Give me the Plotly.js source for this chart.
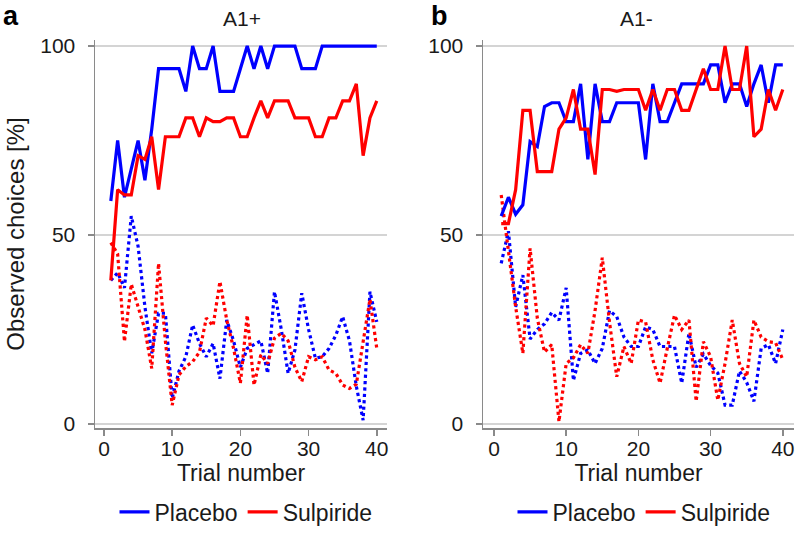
<!DOCTYPE html>
<html>
<head>
<meta charset="utf-8">
<script src="https://cdn.plot.ly/plotly-3.0.1.min.js"></script>
<style>
  html, body { margin: 0; padding: 0; background: #fff; }
  #chart { width: 798px; height: 549px; }
</style>
</head>
<body>
<div id="chart"></div>
<script>
// ---- Data ----
const trials = [1,2,3,4,5,6,7,8,9,10,11,12,13,14,15,16,17,18,19,20,
                21,22,23,24,25,26,27,28,29,30,31,32,33,34,35,36,37,38,39,40];

const seriesNames = ["Placebo", "Sulpiride"];
const panelTitles = ["A1+", "A1-"];
const panelLetters = ["a", "b"];
const xTickVals = [0, 10, 20, 30, 40];
const yTickVals = [0, 50, 100];
const xTitle = "Trial number";
const yTitle = "Observed choices [%]";

// Panel a (A1+)
const leftPlaceboSolid = [59,75,60,67.5,75,64.5,78,94,94,94,94,88,100,94,94,100,88,88,88,94,
                          100,94,100,94,100,100,100,100,94,94,94,100,100,100,100,100,100,100,100,100];
const leftSulpirideSolid = [38,62,60.6,60.6,71,70,76,62,76,76,76,81,81,76,81,80,80,81,81,76,
                            76,81,85.5,81,85.5,85.5,85.5,81,81,81,76,76,81,81,85.5,85.5,90,71,81,85.5];
const leftPlaceboDotted = [38,40,36,55,47,31,18.7,29.3,29.3,6.8,14,17.8,26.2,21.3,17.8,21.3,12,27.5,22,15,
                           20,21,22,13.4,35,25,13.4,19.6,34.6,25,17.4,17.8,20,23.5,28.4,22,10,1,35,27];
const leftSulpirideDotted = [48,45,21.8,37,31,25,14.7,42.5,22,5,13,15.2,16.5,19,28,26,37.7,27.5,20,10.8,
                             28.8,10.3,18.3,16,22.7,24,22,15,11.2,17.8,17,17.8,14.3,13.4,10.3,9.4,10.5,22,33,20];

// Panel b (A1-)
const rightPlaceboSolid = [55,60,55.5,58,74.7,73.4,84,85,85,80,80,90,70,90,80,80,85,85,85,85,
                           70,90,80,80,85,90,90,90,90,95,95,85,90,90,84,90,95,85,95,95];
const rightSulpirideSolid = [53,53,62,83,83,66.8,66.8,66.8,78,81,88.5,78,78,66,88.5,88.5,88,88.5,88.5,88.5,
                             83,88.5,83,88.5,88.5,83,83,88.5,94,88.5,88.5,100,88.5,88.5,100,76,78,88.5,83,88.5];
const rightPlaceboDotted = [42.5,51,31,39.4,22.5,25,26.5,29.5,27.5,36,11.5,18.7,19.6,16,20,30,28.4,23,20.5,20.5,
                            25.7,25,20.5,20.5,20.5,10.8,24,15,18.5,15.5,13.5,5,5,14,11,6,20,21,16,25];
const rightSulpirideDotted = [60.6,46,31,18.7,46.5,28,19,21,0.6,16,17.5,21,18.7,30,44,27,12.5,20.5,16,27.5,
                              27,17,10.8,20,28.8,25,27.5,6,21.8,17.8,6.3,16,27.5,16,12.5,27.5,23,21.8,21.5,17];

// ---- Styling ----
const BLUE = "rgb(0,0,255)";
const RED = "rgb(255,0,0)";
const FONT = "Liberation Sans, Arial, Helvetica, sans-serif";
const LW = 3.2;

function tr(y, xa, ya, color, dash, name, legendId, show) {
  return {
    x: trials, y: y, xaxis: xa, yaxis: ya,
    type: "scatter", mode: "lines",
    line: { color: color, width: LW, dash: dash },
    name: name, legend: legendId, showlegend: show,
    hoverinfo: "x+y+name"
  };
}

const data = [
  tr(leftPlaceboDotted,   "x",  "y",  BLUE, "dot",   seriesNames[0], "legend",  false),
  tr(leftSulpirideDotted, "x",  "y",  RED,  "dot",   seriesNames[1], "legend",  false),
  tr(leftPlaceboSolid,    "x",  "y",  BLUE, "solid", seriesNames[0], "legend",  true),
  tr(leftSulpirideSolid,  "x",  "y",  RED,  "solid", seriesNames[1], "legend",  true),
  tr(rightPlaceboDotted,  "x2", "y2", BLUE, "dot",   seriesNames[0], "legend2", false),
  tr(rightSulpirideDotted,"x2", "y2", RED,  "dot",   seriesNames[1], "legend2", false),
  tr(rightPlaceboSolid,   "x2", "y2", BLUE, "solid", seriesNames[0], "legend2", true),
  tr(rightSulpirideSolid, "x2", "y2", RED,  "solid", seriesNames[1], "legend2", true)
];

const W = 798, H = 549;
const px = v => v / W;
const py = v => 1 - v / H;

function xAxis(domain, range, anchor) {
  return {
    domain: domain, range: range, anchor: anchor,
    tickmode: "array", tickvals: xTickVals,
    showline: true, linecolor: "#8a8a8a", linewidth: 1.5,
    ticks: "outside", ticklen: 6, tickwidth: 1.5, tickcolor: "#8a8a8a",
    ticklabelstandoff: -5,
    showgrid: false, zeroline: false,
    tickfont: { family: FONT, size: 21, color: "#1a1a1a" },
    title: { text: xTitle, font: { family: FONT, size: 23, color: "#1a1a1a" }, standoff: 2 },
    fixedrange: true
  };
}
function yAxis(domain, anchor, withTitle) {
  const a = {
    domain: domain, range: [-1.06, 101.6], anchor: anchor,
    tickmode: "array", tickvals: yTickVals,
    showline: true, linecolor: "#8a8a8a", linewidth: 1.5,
    ticks: "outside", ticklen: 6, tickwidth: 1.5, tickcolor: "#8a8a8a",
    ticklabelstandoff: 8,
    showgrid: true, gridcolor: "#d4d4d4", gridwidth: 2,
    zeroline: false,
    tickfont: { family: FONT, size: 21, color: "#1a1a1a" },
    fixedrange: true
  };
  if (withTitle) {
    a.title = { text: yTitle, font: { family: FONT, size: 24, color: "#1a1a1a" }, standoff: 9 };
  }
  return a;
}

const yDom = [py(428), py(40)];

const legendFont = { family: FONT, size: 23, color: "#1a1a1a" };

const layout = {
  width: W, height: H,
  margin: { l: 0, r: 0, t: 0, b: 0 },
  paper_bgcolor: "#ffffff", plot_bgcolor: "#ffffff",
  font: { family: FONT, color: "#1a1a1a" },
  xaxis:  xAxis([px(95), px(387)], [-1.32, 41.5], "y"),
  yaxis:  yAxis(yDom, "x", true),
  xaxis2: xAxis([px(483), px(794)], [-1.52, 41.55], "y2"),
  yaxis2: yAxis(yDom, "x2", false),
  legend: {
    orientation: "h", x: px(246), xanchor: "center", y: py(512), yanchor: "middle",
    font: legendFont, itemwidth: 30,
    bgcolor: "rgba(0,0,0,0)", tracegroupgap: 0
  },
  legend2: {
    orientation: "h", x: px(644), xanchor: "center", y: py(512), yanchor: "middle",
    font: legendFont, itemwidth: 30,
    bgcolor: "rgba(0,0,0,0)", tracegroupgap: 0
  },
  annotations: [
    { text: panelTitles[0], x: px(242), y: py(18), xref: "paper", yref: "paper",
      xanchor: "center", yanchor: "middle", showarrow: false,
      font: { family: FONT, size: 21, color: "#1a1a1a" } },
    { text: panelTitles[1], x: px(636), y: py(18), xref: "paper", yref: "paper",
      xanchor: "center", yanchor: "middle", showarrow: false,
      font: { family: FONT, size: 21, color: "#1a1a1a" } },
    { text: "<b>" + panelLetters[0] + "</b>", x: px(1), y: py(16), xref: "paper", yref: "paper",
      xanchor: "left", yanchor: "middle", showarrow: false,
      font: { family: FONT, size: 27, color: "#000" } },
    { text: "<b>" + panelLetters[1] + "</b>", x: px(429), y: py(16), xref: "paper", yref: "paper",
      xanchor: "left", yanchor: "middle", showarrow: false,
      font: { family: FONT, size: 27, color: "#000" } }
  ],
  showlegend: true
};

Plotly.newPlot("chart", data, layout, { displayModeBar: false, staticPlot: true });
</script>
</body>
</html>
